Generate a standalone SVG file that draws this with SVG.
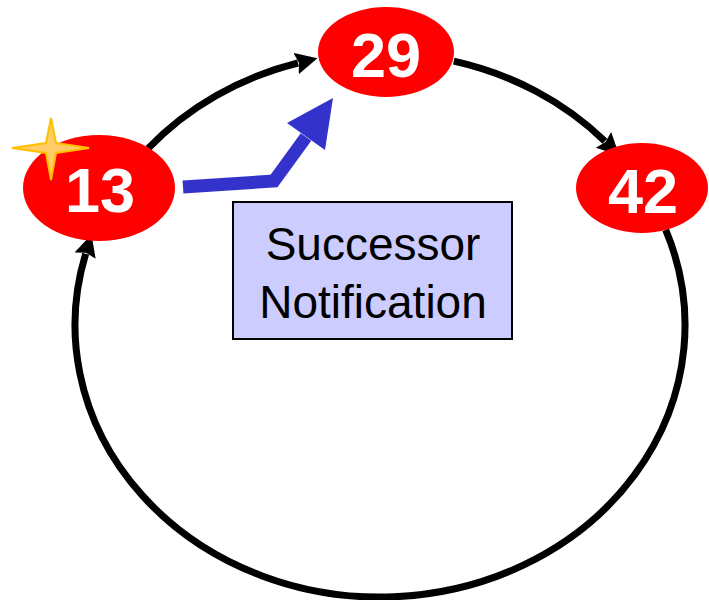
<svg xmlns="http://www.w3.org/2000/svg" width="709" height="600" viewBox="0 0 709 600">
  <style>
    .ring { fill: none; stroke: #000; stroke-width: 7; }
    .node { fill: #FF0000; }
    .id { font-family: "Liberation Sans", Arial, sans-serif; font-weight: bold; font-size: 63px; fill: #fff; text-anchor: middle; }
    .label { font-family: "Liberation Sans", Arial, sans-serif; font-size: 46px; fill: #000; text-anchor: middle; }
  </style>
  <defs>
    <marker id="head" markerUnits="userSpaceOnUse" markerWidth="24" markerHeight="24" refX="2" refY="11" orient="auto">
      <path d="M0,0 L22,11 L0,22 L3,11 Z" fill="#000"/>
    </marker>
  </defs>
  <rect width="709" height="600" fill="#fff"/>

  <!-- ring links between successive nodes -->
  <g id="connectors">
    <path class="ring" d="M148.2,148.4 A305,272 0 0 1 298,63" marker-end="url(#head)"/>
    <path class="ring" d="M453.8,61.1 A305,272 0 0 1 604.9,141.2" marker-end="url(#head)"/>
    <path class="ring" d="M665.7,229.8 A305,272 0 1 1 85.7,253.7" marker-end="url(#head)"/>
    <!-- notification message from 13 to 29 -->
    <g id="notify-arrow">
      <polyline points="183,187 274,181 306,137" fill="none" stroke="#3333CC" stroke-width="13" stroke-linejoin="miter"/>
      <polygon points="333,98 287,123 325,150" fill="#3333CC"/>
    </g>
  </g>

  <g id="node-13">
    <ellipse class="node" cx="99" cy="188" rx="76" ry="53"/>
    <text class="id" x="100" y="212">13</text>
    <polygon id="star" points="51,118 56,143 89,148 56,153 51,180 46,153 12,148 46,143" fill="#FFCC66" stroke="#FFC000" stroke-width="2" stroke-linejoin="miter"/>
  </g>

  <g id="node-29">
    <ellipse class="node" cx="386" cy="52" rx="68" ry="45"/>
    <text class="id" x="386" y="77">29</text>
  </g>

  <g id="node-42">
    <ellipse class="node" cx="642" cy="188" rx="66" ry="45"/>
    <text class="id" x="643" y="213">42</text>
  </g>

  <g id="note">
    <rect x="233" y="202" width="279" height="137" fill="#CCCCFF" stroke="#000" stroke-width="2"/>
    <text class="label" x="373" y="260">Successor</text>
    <text class="label" x="373" y="318">Notification</text>
  </g>
</svg>
